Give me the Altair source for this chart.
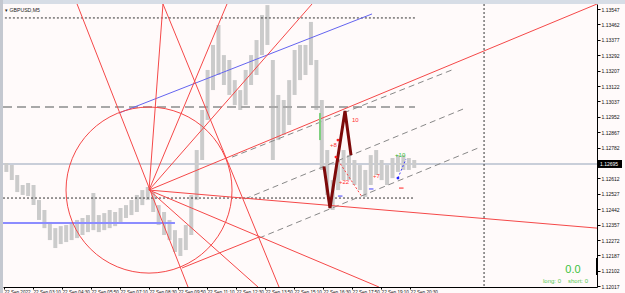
import altair as alt
import pandas as pd

SYMBOL = "GBPUSD,M5"

# ---- axes ----
Y_TICKS = [1.12017, 1.12102, 1.12187, 1.12272, 1.12357, 1.12442, 1.12527, 1.12612,
           1.12782, 1.12867, 1.12952, 1.13037, 1.13122, 1.13207, 1.13292, 1.13377,
           1.13462, 1.13547]
CUR_PRICE = 1.12692
CUR_LABEL = "1.12695"
X_TICK_BARS = [0, 16, 32, 48, 64, 80, 96, 112, 128, 144, 160, 176, 192, 208, 224]
X_LABELS = ["22 Sep 2022", "22 Sep 03:10", "22 Sep 04:30", "22 Sep 05:50", "22 Sep 07:10",
            "22 Sep 08:30", "22 Sep 09:50", "22 Sep 11:10", "22 Sep 12:30", "22 Sep 13:50",
            "22 Sep 15:10", "22 Sep 16:30", "22 Sep 17:50", "22 Sep 19:10", "22 Sep 20:30"]

# ---- price (groups of 3 M5 bars: high / low) ----
GROUP_START = list(range(0, 228, 3))
HIGHS = [1.12697, 1.12686, 1.12631, 1.12576, 1.12587, 1.12576, 1.12493, 1.12438, 1.12372, 1.12338,
         1.12349, 1.12355, 1.12372, 1.12383, 1.12394, 1.12410, 1.12532, 1.12410, 1.12421, 1.12438,
         1.12427, 1.12449, 1.12465, 1.12493, 1.12521, 1.12548, 1.12565, 1.12537, 1.12465, 1.12427,
         1.12383, 1.12327, 1.12283, 1.12355, 1.12521, 1.12769, 1.12990, 1.13211, 1.13349, 1.13459,
         1.13293, 1.13266, 1.13155, 1.13100, 1.13211, 1.13293, 1.13376, 1.13514, 1.13569, 1.13266,
         1.13073, 1.13045, 1.13155, 1.13321, 1.13349, 1.13349, 1.13476, 1.13266, 1.13045, 1.12769,
         1.12603, 1.12714, 1.12769, 1.12741, 1.12714, 1.12686, 1.12659, 1.12741, 1.12769, 1.12714,
         1.12686, 1.12725, 1.12741, 1.12741, 1.12725, 1.12714]
LOWS = [1.12648, 1.12603, 1.12537, 1.12521, 1.12515, 1.12465, 1.12383, 1.12338, 1.12272, 1.12228,
        1.12250, 1.12261, 1.12272, 1.12283, 1.12300, 1.12316, 1.12327, 1.12316, 1.12327, 1.12338,
        1.12349, 1.12372, 1.12394, 1.12410, 1.12427, 1.12465, 1.12493, 1.12427, 1.12355, 1.12300,
        1.12272, 1.12206, 1.12184, 1.12217, 1.12300, 1.12493, 1.12714, 1.12935, 1.13100, 1.13183,
        1.13128, 1.13073, 1.13017, 1.12990, 1.13017, 1.13128, 1.13183, 1.13293, 1.13349, 1.12714,
        1.12824, 1.12852, 1.12907, 1.13073, 1.13155, 1.13183, 1.13238, 1.12990, 1.12659, 1.12521,
        1.12438, 1.12548, 1.12603, 1.12603, 1.12576, 1.12548, 1.12510, 1.12576, 1.12631, 1.12603,
        1.12576, 1.12614, 1.12648, 1.12659, 1.12659, 1.12670]

# ---- drawing objects (bar index, price) ----
RED_X1 = [40.3, 87.7, 123.0, 169.9, 80.0, 80.0, 80.0, 80.0, 87.7, 98.2]
RED_Y1 = [1.13575, 1.13575, 1.13575, 1.13575, 1.12548, 1.12548, 1.12548, 1.12548, 1.13575, 1.12118]
RED_X2 = [101.5, 80.0, 80.0, 80.0, 327.1, 327.1, 206.8, 140.1, 151.7, 140.7]
RED_Y2 = [1.12013, 1.12548, 1.12548, 1.12548, 1.13575, 1.12338, 1.12013, 1.12013, 1.12013, 1.12289]
CIRCLE_BAR, CIRCLE_PRICE = 80.0, 1.12548

CH_X1 = [125.8, 132.9, 140.7]
CH_Y1 = [1.12730, 1.12499, 1.12283]
CH_X2 = [247.1, 253.2, 261.5]
CH_Y2 = [1.13211, 1.12995, 1.12780]

BLUE_DIAG = [63.4, 1.12973, 203.0, 1.13520]
BLUE_HLINE = [-0.55, 94.3, 1.12366]
GRAY_HDASH = [-0.55, 226.7, 1.13006]
DOT_H_PRICE = [1.13498, 1.12504]
DOT_H_X1 = [0.5, -0.55]
DOT_H_X2 = [226.7, 226.7]
VLINE_BAR = 264.8

ZZ_BAR = [176.5, 179.8, 188.1, 191.4]
ZZ_PRICE = [1.12678, 1.12449, 1.12984, 1.12741]
GREEN_SEG = [174.3, 1.12973, 1.12824]

TXT = ["10", "+8", "+22", "+7", "+10"]
TXT_BAR = [191.9, 179.8, 184.8, 203.5, 215.7]
TXT_PRICE = [1.12935, 1.12799, 1.12595, 1.12628, 1.12739]
TXT_COLOR = ["#ff3030", "#ff3030", "#ff3030", "#ff3030", "#30c030"]

DOT_BAR = [184.2, 183.1, 217.3]
DOT_PRICE = [1.12824, 1.12730, 1.12614]
DOT_COLOR = ["#ff2020", "#ff2020", "#2020ff"]

TRADE_X1 = [183.1, 217.3]
TRADE_Y1 = [1.12730, 1.12614]
TRADE_X2 = [197.5, 221.7]
TRADE_Y2 = [1.12510, 1.12719]
TRADE_COLOR = ["#ff4040", "#4040ff"]

DASH_BAR = [217.9, 201.3, 184.2]
DASH_PRICE = [1.12559, 1.12554, 1.12515]
DASH_COLOR = ["#ff2020", "#4040ff", "#4040ff"]

# ---- scales / axes ----
xs = alt.Scale(domain=[-0.55, 327.1], nice=False, zero=False)
ys = alt.Scale(domain=[1.12013, 1.13575], nice=False, zero=False)
label_js = "[" + ",".join("'%s'" % s for s in X_LABELS) + "][round(datum.value/16)]"
xaxis = alt.Axis(values=X_TICK_BARS, labelExpr=label_js, labelAlign="left", labelFontSize=4.6,
                 labelFont="Liberation Sans", labelColor="#111", tickSize=2, tickColor="black",
                 domainColor="black", grid=False, title=None, labelPadding=0,
                 labelBaseline="top", labelOverlap=False, labelFlush=False)
yaxis = alt.Axis(orient="right", values=Y_TICKS, format=".5f", labelFontSize=5,
                 labelFont="Liberation Sans", labelColor="#111", tickSize=3, tickColor="black",
                 domainColor="black", grid=False, title=None, labelPadding=1,
                 labelOverlap=False, labelFlush=False)


def X(f):
    return alt.X(f, type="quantitative", scale=xs, axis=xaxis)


def Y(f):
    return alt.Y(f, type="quantitative", scale=ys, axis=yaxis)


one = pd.DataFrame({"a": [0]})
RED = "#f54848"

# decorations (window frame)
top_strip = alt.Chart(one).mark_rect(color="#d7dde6", clip=False).encode(
    x=alt.value(-3), x2=alt.value(622), y=alt.value(-4), y2=alt.value(0))
left_strip = alt.Chart(one).mark_rect(color="#c4c8d0", clip=False).encode(
    x=alt.value(-3), x2=alt.value(0), y=alt.value(-4), y2=alt.value(289))

# current price line
cur_line = alt.Chart(pd.DataFrame({"y": [CUR_PRICE]})).mark_rule(
    color="#c9ced9", strokeWidth=2).encode(y=Y("y"))

# price bars
price_df = pd.DataFrame({"g": GROUP_START, "hi": HIGHS, "lo": LOWS})
price_df["x0"] = price_df["g"] + 0.2
price_df["x1"] = price_df["g"] + 2.4
price = alt.Chart(price_df).mark_rect(color="#cbcbcb", clip=True).encode(
    x=X("x0"), x2="x1", y=Y("hi"), y2="lo")

# horizontal gray dashed
hdash = alt.Chart(pd.DataFrame({"x": [GRAY_HDASH[0]], "x2": [GRAY_HDASH[1]], "y": [GRAY_HDASH[2]]})).mark_rule(
    color="#a8a8a8", strokeWidth=2, strokeDash=[9, 5], clip=True).encode(x=X("x"), x2="x2", y=Y("y"))

# dotted black lines
dot_h = alt.Chart(pd.DataFrame({"x": DOT_H_X1, "x2": DOT_H_X2, "y": DOT_H_PRICE})).mark_rule(
    color="#333", strokeWidth=1, strokeDash=[2, 2], clip=True).encode(x=X("x"), x2="x2", y=Y("y"))
dot_v = alt.Chart(pd.DataFrame({"x": [VLINE_BAR]})).mark_rule(
    color="#333", strokeWidth=1, strokeDash=[2, 2]).encode(x=X("x"))

# blue lines
blue_h = alt.Chart(pd.DataFrame({"x": [BLUE_HLINE[0]], "x2": [BLUE_HLINE[1]], "y": [BLUE_HLINE[2]]})).mark_rule(
    color="#8c8cff", strokeWidth=2, clip=True).encode(x=X("x"), x2="x2", y=Y("y"))
blue_d = alt.Chart(pd.DataFrame({"x": [BLUE_DIAG[0]], "y": [BLUE_DIAG[1]], "x2": [BLUE_DIAG[2]], "y2": [BLUE_DIAG[3]]})).mark_rule(
    color="#6464f0", strokeWidth=1, clip=True).encode(x=X("x"), y=Y("y"), x2="x2", y2="y2")

# gray dashed channel
chan = alt.Chart(pd.DataFrame({"x": CH_X1, "y": CH_Y1, "x2": CH_X2, "y2": CH_Y2})).mark_rule(
    color="#888888", strokeWidth=1, strokeDash=[6, 4], clip=True).encode(x=X("x"), y=Y("y"), x2="x2", y2="y2")

# red fan lines and circle
red = alt.Chart(pd.DataFrame({"x": RED_X1, "y": RED_Y1, "x2": RED_X2, "y2": RED_Y2})).mark_rule(
    color=RED, strokeWidth=1, clip=True).encode(x=X("x"), y=Y("y"), x2="x2", y2="y2")
circle = alt.Chart(pd.DataFrame({"x": [CIRCLE_BAR], "y": [CIRCLE_PRICE]})).mark_point(
    shape="circle", filled=False, size=166 * 166, color=RED, strokeWidth=1, opacity=1, clip=True).encode(
    x=X("x"), y=Y("y"))

# green segment
green = alt.Chart(pd.DataFrame({"x": [GREEN_SEG[0]], "y": [GREEN_SEG[1]], "y2": [GREEN_SEG[2]]})).mark_rule(
    color="#7fd07f", strokeWidth=2).encode(x=X("x"), y=Y("y"), y2="y2")

# trade lines
trades = alt.Chart(pd.DataFrame({"x": TRADE_X1, "y": TRADE_Y1, "x2": TRADE_X2, "y2": TRADE_Y2, "c": TRADE_COLOR})).mark_rule(
    strokeWidth=1, strokeDash=[2, 2]).encode(x=X("x"), y=Y("y"), x2="x2", y2="y2",
                                             color=alt.Color("c:N", scale=None))

# zigzag
zz = alt.Chart(pd.DataFrame({"x": ZZ_BAR, "y": ZZ_PRICE, "i": list(range(len(ZZ_BAR)))})).mark_line(
    color="#7d0a0a", strokeWidth=3).encode(x=X("x"), y=Y("y"), order="i:Q")

dots = alt.Chart(pd.DataFrame({"x": DOT_BAR, "y": DOT_PRICE, "c": DOT_COLOR})).mark_point(
    shape="circle", filled=True, size=8, opacity=1).encode(x=X("x"), y=Y("y"), color=alt.Color("c:N", scale=None))

dash_df = pd.DataFrame({"x": DASH_BAR, "y": DASH_PRICE, "c": DASH_COLOR})
dash_df["x2"] = dash_df["x"] + 2.5
dashes = alt.Chart(dash_df).mark_rule(strokeWidth=1).encode(
    x=X("x"), x2="x2", y=Y("y"), color=alt.Color("c:N", scale=None))

texts = alt.Chart(pd.DataFrame({"x": TXT_BAR, "y": TXT_PRICE, "t": TXT, "c": TXT_COLOR})).mark_text(
    align="left", baseline="middle", fontSize=6, font="Liberation Sans").encode(
    x=X("x"), y=Y("y"), text="t:N", color=alt.Color("c:N", scale=None))

# current price box on axis
cur_box = alt.Chart(pd.DataFrame({"y": [1.12714], "y2": [1.12670]})).mark_rect(color="black", clip=False).encode(
    x=alt.value(595), x2=alt.value(619), y=Y("y"), y2="y2")
cur_txt = alt.Chart(pd.DataFrame({"y": [CUR_PRICE], "t": [CUR_LABEL]})).mark_text(
    align="left", baseline="middle", fontSize=5, font="Liberation Sans", color="white").encode(
    x=alt.value(597), y=Y("y"), text="t:N")
axis_bar = alt.Chart(pd.DataFrame({"y": [1.12173], "y2": [1.12079]})).mark_rule(
    color="black", strokeWidth=2).encode(x=alt.value(594), y=Y("y"), y2="y2")

# overlay texts
sym = alt.Chart(pd.DataFrame({"t": ["\u25be " + SYMBOL]})).mark_text(
    align="left", baseline="middle", fontSize=5.2, font="Liberation Sans", color="#222").encode(
    x=alt.value(2), y=alt.value(6), text="t:N")
pnl = alt.Chart(pd.DataFrame({"t": ["0.0"]})).mark_text(
    align="center", baseline="middle", fontSize=11, font="Liberation Sans", color="#3cc23c").encode(
    x=alt.value(570), y=alt.value(266), text="t:N")
ls = alt.Chart(pd.DataFrame({"t": ["long: 0", "short: 0"], "px": [540, 565]})).mark_text(
    align="left", baseline="middle", fontSize=6, font="Liberation Sans", color="#55c855").encode(
    x=alt.X("px:Q", scale=None), y=alt.value(277), text="t:N")

chart = alt.layer(
    top_strip, left_strip, cur_line, price, hdash, dot_h, dot_v, blue_h, blue_d, chan,
    red, circle, green, trades, zz, dots, dashes, texts, cur_box, cur_txt, axis_bar,
    sym, pnl, ls
).properties(
    width=594, height=283,
    padding={"left": 3, "top": 4, "right": 28, "bottom": 6},
    autosize=alt.AutoSizeParams(type="none"),
    background="#fffafa",
).configure_view(stroke=None, fill="#fffafa")

chart.save("out.html", embed_options={"renderer": "svg", "actions": False})
